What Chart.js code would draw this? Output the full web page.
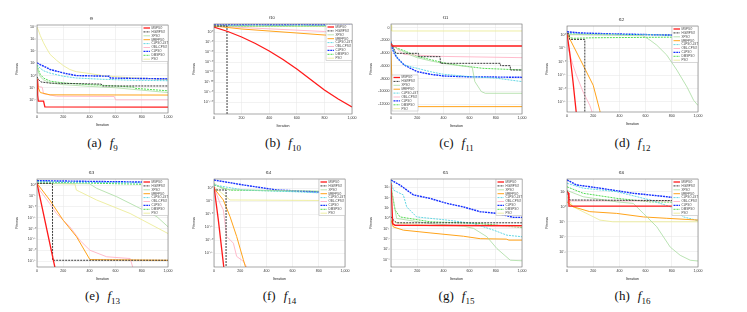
<!DOCTYPE html>
<html>
<head>
<meta charset="utf-8">
<script src="https://cdn.jsdelivr.net/npm/chart.js@4.4.1/dist/chart.umd.min.js"></script>
<style>
  body { margin: 0; width: 747px; height: 312px; background: #fff; position: relative; overflow: hidden; }
  canvas { position: absolute; }
  .cap { position: absolute; transform: translateX(-50%); font-family: "Liberation Serif", serif; font-size: 13px; color: #111; white-space: nowrap; }
  .cap i { margin-left: 8px; }
  .cap sub { font-size: 9px; }
</style>
</head>
<body>
<script>
// legend names, same order as the curves in every panel
const algorithms = ['MSPSO', 'HGWPSO', 'XPSO', 'MRFPSO', 'CLPSO-LST', 'OBL-CPSO', 'CLPSO', 'DMSPSO', 'PSO'];
const xTicks = [0, 200, 400, 600, 800, 1000];

// curves: [iteration, best fitness]
const f9Curves = [
  [[0, 0.5], [5, 0.025], [10, 0.008], [50, 0.008], [60, 0.0027], [1000, 0.0025]],
  [[0, 0.8], [10, 0.5], [30, 0.3], [100, 0.24], [490, 0.2], [500, 0.14], [1000, 0.14]],
  [[0, 4.7], [10, 2], [25, 0.8], [50, 0.45], [100, 0.25], [200, 0.18], [400, 0.13], [600, 0.1], [800, 0.063], [1000, 0.04]],
  [[0, 0.63], [10, 0.1], [25, 0.04], [100, 0.026], [1000, 0.025]],
  [[0, 8], [25, 4], [50, 2.5], [100, 1.6], [200, 0.89], [300, 0.63], [500, 0.5], [700, 0.42], [1000, 0.38]],
  [[0, 0.5], [10, 0.126], [40, 0.11], [50, 0.032], [150, 0.02], [590, 0.019], [600, 0.01], [1000, 0.01]],
  [[0, 11.5], [25, 8], [75, 4.5], [100, 3.2], [200, 1.66], [300, 1], [550, 0.89], [560, 0.63], [1000, 0.54]],
  [[0, 8], [10, 3.2], [25, 1.26], [50, 0.63], [100, 0.35], [200, 0.25], [400, 0.18], [600, 0.14], [740, 0.11], [750, 0.089], [1000, 0.056]],
  [[0, 1e4], [10, 5600], [25, 2000], [50, 500], [75, 160], [100, 56], [150, 18], [200, 6.8], [250, 3.2], [300, 2.1], [400, 1.5], [500, 1], [700, 0.68], [1000, 0.47]]
];
const f9Ticks = [1e4, 1e3, 1e2, 1e1, 1e0, 1e-1, 1e-2];

const f10Curves = [
  [[0, 1e10], [100, 1e1], [200, 1e-10], [300, 1e-23], [400, 1e-38], [500, 1e-55], [600, 1e-74], [700, 1e-95], [800, 1e-116], [900, 1e-134], [1000, 1e-150]],
  [[0, 1e12], [94, 1e12], [95, 1e-300]],
  [[0, 1e12], [1000, 1e12]],
  [[0, 1e12], [100, 1e9], [200, 1e6], [400, 1e2], [600, 1e-2], [800, 1e-6], [1000, 3e-10]],
  [[0, 1e13], [1000, 1e13]],
  [[0, 1e12], [200, 1e9], [500, 1e5], [800, 1e1], [1000, 1e-2]],
  [[0, 1e14], [1000, 1e14]],
  [[0, 1e12], [1000, 3e12]],
  [[0, 1e11], [1000, 1e11]]
];
const f10Ticks = [1e0, 1e-20, 1e-40, 1e-60, 1e-80, 1e-100, 1e-120, 1e-140];

const f11Curves = [
  [[0, -2450], [8, -2870], [1000, -2870]],
  [[0, -2450], [10, -2800], [38, -4020], [210, -4020], [212, -4540], [375, -4540], [377, -5585], [834, -5585], [836, -5950], [910, -5950], [912, -6630], [1000, -6630]],
  [[0, -2700], [50, -3300], [100, -3800], [150, -4300], [200, -4700], [300, -5200], [400, -5600], [500, -5900], [620, -6200], [640, -8450], [690, -10020], [720, -10280], [1000, -10280]],
  [[0, -3760], [13, -12370], [1000, -12370]],
  [[0, -2190], [10, -2800], [25, -3800], [50, -4800], [100, -5850], [200, -6370], [300, -6890], [400, -7300], [600, -7670], [800, -7900], [1000, -8450]],
  [[0, -2400], [60, -3600], [100, -4200], [380, -4500], [1000, -4700]],
  [[0, -2190], [10, -3240], [25, -4020], [50, -4800], [100, -5850], [150, -6370], [200, -6890], [300, -7300], [400, -7570], [600, -7700], [1000, -7780]],
  [[0, -2450], [25, -3000], [50, -3240], [100, -3600], [200, -4500], [300, -5000], [400, -5500], [500, -5850], [700, -6370], [1000, -6630]],
  [[0, 400], [5, -520], [1000, -520]]
];
const f11Ticks = [0, -2000, -4000, -6000, -8000, -10000, -12000];

const f12Curves = [
  [[0, 4], [20, 5.6e-7], [46, 3.2e-18], [75, 1e-31]],
  [[0, 4], [15, 3], [20, 0.025], [136, 0.025], [137, 1e-300]],
  [[0, 2], [300, 1], [580, 0.6], [634, 1.3e-2], [685, 1.8e-4], [762, 3.2e-8], [839, 8e-14], [916, 4e-20], [967, 4e-25], [1000, 5e-27]],
  [[0, 4], [100, 1e-9], [200, 1.8e-19], [250, 8e-29], [265, 1e-32]],
  [[0, 4], [100, 2.5], [500, 1.6], [1000, 0.63]],
  [[0, 4], [8, 1e-5], [46, 5.6e-12], [72, 1e-15], [123, 5.6e-22], [174, 5.6e-27], [200, 1e-30]],
  [[0, 17.8], [100, 6.3], [300, 3.2], [600, 1.6], [1000, 0.63]],
  [[0, 4], [25, 0.1], [50, 0.063], [200, 0.1], [1000, 0.2]],
  [[0, 2], [1000, 1.26]]
];
const f12Ticks = [1e0, 1e-5, 1e-10, 1e-15, 1e-20, 1e-25];

const f13Curves = [
  [[0, 6], [136, 2e-38], [140, 1e-39]],
  [[0, 6], [118, 6], [119, 2.5e-35], [1000, 2.5e-35]],
  [[0, 6], [400, 4], [455, 3.2e-2], [609, 4e-6], [762, 1e-10], [916, 2.5e-15], [1000, 6.3e-20]],
  [[0, 6], [97, 1.3e-7], [200, 6.3e-17], [302, 1.6e-24], [404, 5e-35], [1000, 2.5e-35]],
  [[0, 30], [1000, 6]],
  [[0, 6], [20, 5e-3], [97, 3.2e-9], [148, 8e-14], [251, 6.3e-20], [327, 4e-26], [404, 1e-30], [532, 1e-33], [711, 1.6e-34], [737, 1e-39]],
  [[0, 100], [500, 40], [1000, 16]],
  [[0, 30], [300, 10], [700, 3], [1000, 1]],
  [[0, 6], [290, 3], [300, 5e-3], [327, 8e-4], [455, 1.3e-7], [711, 8e-14], [1000, 5e-23]]
];
const f13Ticks = [1e0, 1e-5, 1e-10, 1e-15, 1e-20, 1e-25, 1e-30, 1e-35];

const f14Curves = [
  [[0, 4.4], [33, 6.3e-13], [71, 1.6e-29], [80, 1e-33]],
  [[0, 1], [8, 0.23], [92, 0.23], [93, 1e-300]],
  [[0, 80], [60, 1], [122, 0.3], [1000, 0.06]],
  [[0, 1], [71, 3.2e-5], [122, 1.3e-11], [173, 2.5e-19], [224, 2.5e-28], [250, 1e-32]],
  [[0, 20], [224, 0.23], [600, 0.05], [1000, 6.3e-3]],
  [[0, 1], [8, 0.23], [46, 1.6e-6], [71, 5e-9], [97, 2.5e-19], [148, 6.3e-22], [173, 5e-27], [224, 6.3e-29], [249, 4e-31], [260, 1e-33]],
  [[0, 1600], [224, 20], [478, 0.23], [1000, 0.013]],
  [[0, 20], [122, 0.2], [500, 0.1], [1000, 0.04]],
  [[0, 4.4], [122, 3.2e-5], [1000, 1.8e-5]]
];
const f14Ticks = [1e0, 1e-5, 1e-10, 1e-15, 1e-20, 1e-25];

const f15Curves = [
  [[0, 2500], [13, 0.32], [31, 0.22], [1000, 0.2]],
  [[0, 1.5], [18, 0.7], [43, 0.38], [1000, 0.38]],
  [[0, 1200], [43, 1], [298, 0.32], [553, 0.18], [630, 0.11], [732, 0.017], [809, 1.2e-3], [911, 9e-5], [1000, 8e-5]],
  [[0, 0.7], [18, 0.15], [94, 0.074], [298, 0.04], [553, 0.019], [681, 0.011], [880, 0.01], [900, 0.008], [1000, 0.008]],
  [[0, 3600], [18, 560], [94, 190], [120, 13], [196, 1.4], [426, 0.7], [630, 0.32], [783, 0.074], [885, 0.024], [1000, 0.017]],
  [[0, 0.5], [20, 0.25], [300, 0.2], [1000, 0.15]],
  [[0, 5200], [69, 1700], [171, 190], [298, 87], [426, 29], [553, 13], [681, 4.5], [809, 3.1], [936, 1.26], [1000, 1.26]],
  [[0, 1200], [31, 6.5], [69, 1.4], [298, 0.48], [681, 0.32], [1000, 0.13]],
  [[0, 1], [30, 0.4], [300, 0.2], [1000, 0.17]]
];
const f15Ticks = [1e3, 1e2, 1e1, 1e0, 1e-1, 1e-2, 1e-3, 1e-4];

const f16Curves = [
  [[0, 10], [12, 8], [15, 1.1], [1000, 1.1]],
  [[0, 12], [20, 2.8], [1000, 2.5]],
  [[0, 12], [123, 4.6], [379, 2.1], [506, 1.66], [583, 0.36], [685, 0.047], [788, 2.1e-3], [864, 6e-4], [941, 2.8e-4], [1000, 2.5e-4]],
  [[0, 2.1], [46, 1], [174, 0.47], [379, 0.36], [583, 0.21], [762, 0.17], [1000, 0.13]],
  [[0, 36], [123, 17], [379, 10], [634, 2.8], [788, 1], [890, 0.21], [1000, 0.12]],
  [[0, 2.4], [1000, 2.4]],
  [[0, 60], [72, 28], [251, 17], [506, 7.8], [762, 4.6], [1000, 2.5]],
  [[0, 21], [123, 7.8], [379, 3.6], [634, 2.1], [1000, 1.95]],
  [[0, 4.6], [46, 1], [251, 0.13], [350, 0.1], [1000, 0.1]]
];
const f16Ticks = [1e1, 1e0, 1e-1, 1e-2, 1e-3];

// line look per algorithm
const lineColors = ['#ff1a1a', '#3a3a3a', '#a8dca0', '#ffa31a', '#52d3e0', '#ffb3c6', '#1530ff', '#3ed83e', '#ecec9a'];
const lineWidths = [1.3, 1, 0.8, 1, 0.9, 0.9, 1.4, 0.9, 0.9];
const lineDashes = [[], [2, 1], [], [], [2, 1], [], [2, 0.8], [2, 1], []];

// where each plot box sits on the page
const panels = [
  { name: 'f9', tag: 'a', sub: '9', curves: f9Curves, ticks: f9Ticks, log: true, min: 8.3e-4, max: 1.48e4, L: 37, R: 168, T: 25, B: 113, legend: 'tr' },
  { name: 'f10', tag: 'b', sub: '10', curves: f10Curves, ticks: f10Ticks, log: true, min: 1e-164, max: 1e16, L: 214, R: 352, T: 24, B: 114, legend: 'tr' },
  { name: 'f11', tag: 'c', sub: '11', curves: f11Curves, ticks: f11Ticks, log: false, min: -13525, max: 574, L: 391, R: 522, T: 24, B: 114, legend: 'bl' },
  { name: 'f12', tag: 'd', sub: '12', curves: f12Curves, ticks: f12Ticks, log: true, min: 1.8e-29, max: 2.5e3, L: 567, R: 698, T: 26, B: 112, legend: 'tr' },
  { name: 'f13', tag: 'e', sub: '13', curves: f13Curves, ticks: f13Ticks, log: true, min: 2e-38, max: 590, L: 37, R: 168, T: 179, B: 267, legend: 'tr' },
  { name: 'f14', tag: 'f', sub: '14', curves: f14Curves, ticks: f14Ticks, log: true, min: 4e-31, max: 4e3, L: 214, R: 345, T: 179, B: 267, legend: 'tr' },
  { name: 'f15', tag: 'g', sub: '15', curves: f15Curves, ticks: f15Ticks, log: true, min: 2e-5, max: 6600, L: 391, R: 522, T: 179, B: 267, legend: 'tr' },
  { name: 'f16', tag: 'h', sub: '16', curves: f16Curves, ticks: f16Ticks, log: true, min: 1e-4, max: 69, L: 567, R: 698, T: 179, B: 267, legend: 'tr' }
];

const SUP = { '-': '⁻', '0': '⁰', '1': '¹', '2': '²', '3': '³', '4': '⁴', '5': '⁵', '6': '⁶', '7': '⁷', '8': '⁸', '9': '⁹' };
function powLabel(v) {
  const k = Math.round(Math.log10(v));
  return '10' + String(k).split('').map(c => SUP[c]).join('');
}

const TICK_FONT = { family: '"Liberation Sans", sans-serif', size: 3.6 };
const PAD_L = 22, PAD_R = 6, PAD_T = 14, PAD_B = 14;

// box around the plot area
const framePlugin = {
  id: 'frame',
  afterDatasetsDraw(chart) {
    const a = chart.chartArea, c = chart.ctx;
    c.save();
    c.strokeStyle = '#6f6f6f';
    c.lineWidth = 0.6;
    c.strokeRect(a.left, a.top, a.right - a.left, a.bottom - a.top);
    c.restore();
  }
};

// small legend box drawn inside the plot, matlab style
const boxLegend = {
  id: 'boxLegend',
  afterDraw(chart, args, opts) {
    const a = chart.chartArea, c = chart.ctx;
    const w = 26, h = 36;
    const x0 = opts.corner === 'bl' ? a.left + 1 : a.right - w;
    const y0 = opts.corner === 'bl' ? a.bottom - h - 3 : a.top + 0.5;
    c.save();
    c.fillStyle = '#fff';
    c.fillRect(x0, y0, w, h);
    c.strokeStyle = '#b0b0b0';
    c.lineWidth = 0.5;
    c.strokeRect(x0, y0, w, h);
    c.font = '3px "Liberation Sans", sans-serif';
    c.textBaseline = 'middle';
    chart.data.datasets.forEach((ds, i) => {
      const y = y0 + 2.5 + i * 3.9;
      c.strokeStyle = ds.borderColor;
      c.lineWidth = ds.borderWidth;
      c.setLineDash(ds.borderDash);
      c.beginPath();
      c.moveTo(x0 + 1.5, y);
      c.lineTo(x0 + 8, y);
      c.stroke();
      c.setLineDash([]);
      c.fillStyle = '#444';
      c.fillText(ds.label, x0 + 9.5, y);
    });
    c.restore();
  }
};

panels.forEach(p => {
  const canvas = document.createElement('canvas');
  const w = p.R - p.L + PAD_L + PAD_R;
  const h = p.B - p.T + PAD_T + PAD_B;
  canvas.width = w;
  canvas.height = h;
  canvas.style.left = (p.L - PAD_L) + 'px';
  canvas.style.top = (p.T - PAD_T) + 'px';
  canvas.style.width = w + 'px';
  canvas.style.height = h + 'px';
  document.body.appendChild(canvas);

  const cap = document.createElement('div');
  cap.className = 'cap';
  cap.style.left = ((p.L + p.R) / 2) + 'px';
  cap.style.top = (p.T < 100 ? 135 : 288) + 'px';
  cap.innerHTML = '(' + p.tag + ')<i>f</i><sub>' + p.sub + '</sub>';
  document.body.appendChild(cap);

  const datasets = p.curves.map((pts, i) => ({
    label: algorithms[i],
    data: pts,
    borderColor: lineColors[i],
    borderWidth: lineWidths[i],
    borderDash: lineDashes[i],
    pointRadius: 0,
    tension: 0,
    fill: false
  }));

  const yScale = {
    type: p.log ? 'logarithmic' : 'linear',
    min: p.min,
    max: p.max,
    afterBuildTicks: s => { s.ticks = p.ticks.map(v => ({ value: v })); },
    ticks: {
      font: TICK_FONT, color: '#333', padding: 1.5, autoSkip: false,
      callback: v => p.log ? powLabel(v) : String(v)
    },
    grid: { color: '#e4e4e4', lineWidth: 0.5, drawTicks: false },
    border: { display: false },
    title: { display: true, text: 'Fitness', font: TICK_FONT, color: '#222', padding: 0 },
    afterFit: s => { s.width = PAD_L; }
  };

  new Chart(canvas, {
    type: 'line',
    data: { datasets },
    options: {
      responsive: false,
      animation: false,
      events: [],
      layout: { padding: { left: 0, right: PAD_R, top: 0, bottom: 0 } },
      scales: {
        x: {
          type: 'linear',
          min: 0,
          max: 1000,
          afterBuildTicks: s => { s.ticks = xTicks.map(v => ({ value: v })); },
          ticks: { font: TICK_FONT, color: '#333', padding: 1.5, maxRotation: 0, autoSkip: false },
          grid: { color: '#e4e4e4', lineWidth: 0.5, drawTicks: false },
          border: { display: false },
          title: { display: true, text: 'Iteration', font: TICK_FONT, color: '#222', padding: 0 },
          afterFit: s => { s.height = PAD_B; }
        },
        y: yScale
      },
      plugins: {
        legend: { display: false },
        tooltip: { enabled: false },
        title: {
          display: true,
          text: p.name,
          font: { family: '"Liberation Sans", sans-serif', size: 4, weight: 'normal' },
          color: '#222',
          padding: { top: 5, bottom: 4.2 }
        },
        boxLegend: { corner: p.legend }
      }
    },
    plugins: [framePlugin, boxLegend]
  });
});
</script>
</body>
</html>
